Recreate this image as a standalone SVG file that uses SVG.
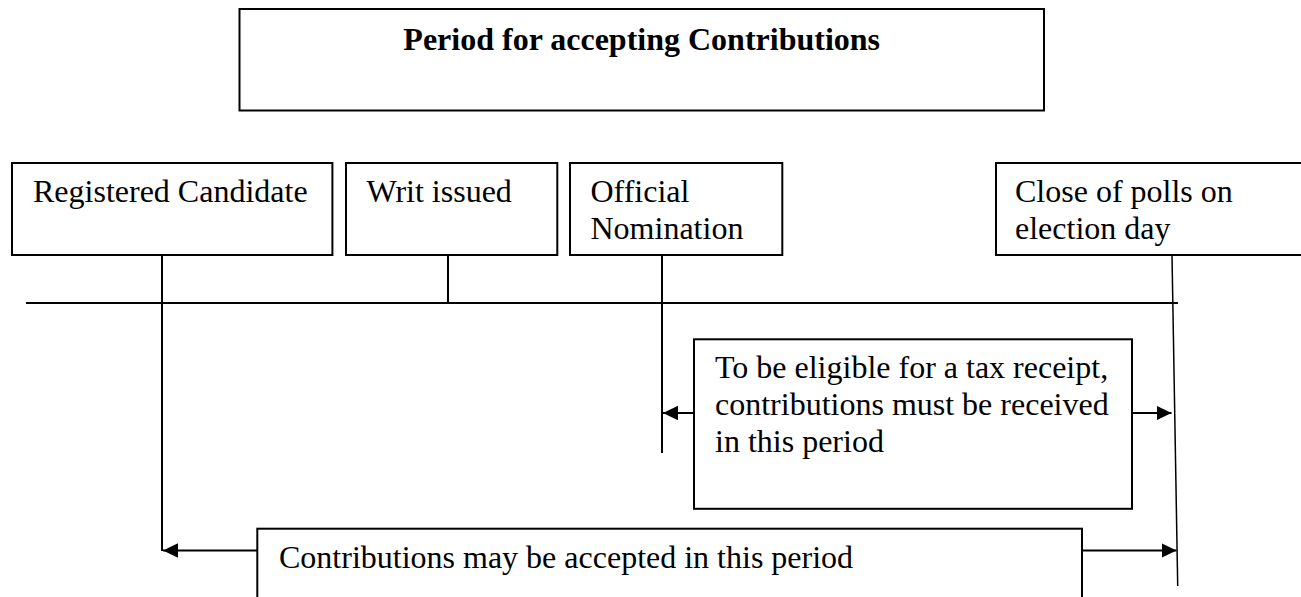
<svg xmlns="http://www.w3.org/2000/svg" width="1301" height="597" viewBox="0 0 1301 597">
  <style>
    .box { fill: #ffffff; stroke: #000000; stroke-width: 2; }
    .ln { stroke: #000000; stroke-width: 2; fill: none; }
    .thin { stroke: #000000; stroke-width: 1.5; fill: none; }
    .t { font-family: "Liberation Serif", "Times New Roman", serif; font-size: 32px; fill: #000000; }
    .tb { font-family: "Liberation Serif", "Times New Roman", serif; font-size: 32px; font-weight: bold; fill: #000000; }
  </style>
  <defs>
    <marker id="arrow" markerUnits="userSpaceOnUse" markerWidth="16" markerHeight="15" refX="15" refY="7.25" orient="auto">
      <path d="M0,0 L15,7.25 L0,14.5 z" fill="#000000"/>
    </marker>
  </defs>
  <rect width="1301" height="597" fill="#ffffff"/>

  <g id="connectors">
    <line class="ln" x1="26" y1="303" x2="1178" y2="303"/>
    <line class="ln" x1="162" y1="255" x2="162" y2="551"/>
    <line class="ln" x1="448" y1="255" x2="448" y2="303"/>
    <line class="ln" x1="662" y1="255" x2="662" y2="453"/>
    <line class="thin" x1="1172" y1="255" x2="1177.7" y2="586"/>
    <line class="ln" x1="694" y1="413" x2="663" y2="413" marker-end="url(#arrow)"/>
    <line class="ln" x1="1132" y1="413" x2="1171.5" y2="413" marker-end="url(#arrow)"/>
    <line class="ln" x1="257.3" y1="550.5" x2="163" y2="550.5" marker-end="url(#arrow)"/>
    <line class="ln" x1="1082" y1="550.5" x2="1176.5" y2="550.5" marker-end="url(#arrow)"/>
  </g>

  <g id="title">
    <rect class="box" x="239.5" y="9" width="804.5" height="101.5"/>
    <text class="tb" x="641.7" y="50" text-anchor="middle">Period for accepting Contributions</text>
  </g>

  <g id="registered-candidate">
    <rect class="box" x="12" y="163" width="320.4" height="92"/>
    <text class="t" x="33" y="202">Registered Candidate</text>
  </g>

  <g id="writ-issued">
    <rect class="box" x="346" y="163" width="211.3" height="92"/>
    <text class="t" x="366.5" y="202">Writ issued</text>
  </g>

  <g id="official-nomination">
    <rect class="box" x="570" y="163" width="212.3" height="92"/>
    <text class="t" x="590.5" y="202">Official</text>
    <text class="t" x="590.5" y="239">Nomination</text>
  </g>

  <g id="close-of-polls">
    <rect class="box" x="996" y="163" width="340" height="92"/>
    <text class="t" x="1015" y="202">Close of polls on</text>
    <text class="t" x="1015" y="239">election day</text>
  </g>

  <g id="tax-receipt-period">
    <rect class="box" x="694" y="339.3" width="438" height="169.5"/>
    <text class="t" x="715" y="378">To be eligible for a tax receipt,</text>
    <text class="t" x="715" y="415">contributions must be received</text>
    <text class="t" x="715" y="452">in this period</text>
  </g>

  <g id="contributions-period">
    <rect class="box" x="257.3" y="528.7" width="824.7" height="100"/>
    <text class="t" x="279" y="568">Contributions may be accepted in this period</text>
  </g>
</svg>
